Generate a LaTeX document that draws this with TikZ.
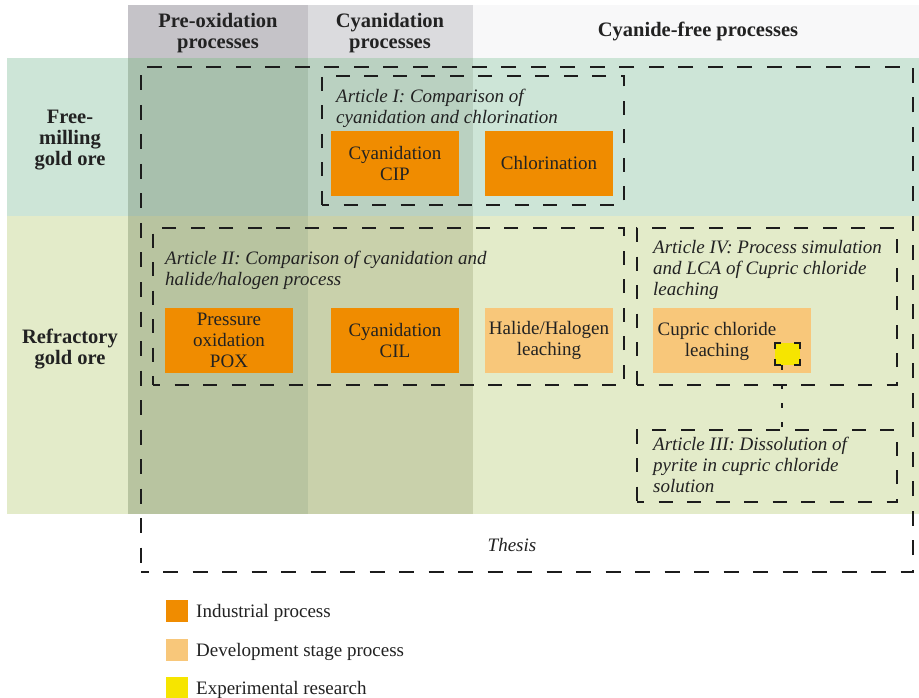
\documentclass[tikz,border=0pt]{standalone}
\usepackage{fontspec}
\setmainfont{Liberation Serif}
\usetikzlibrary{calc}

\definecolor{hdPre}{HTML}{C5C3C8}
\definecolor{hdCy}{HTML}{DBDBDE}
\definecolor{hdFree}{HTML}{F8F8F9}
\definecolor{rowFree}{HTML}{CDE5D7}
\definecolor{rowRef}{HTML}{E3EBC9}
\definecolor{ovPreFree}{HTML}{A8C0AD}
\definecolor{ovCyFree}{HTML}{BAD1C1}
\definecolor{ovPreRef}{HTML}{B8C4A0}
\definecolor{ovCyRef}{HTML}{C9D1AB}
\definecolor{procInd}{HTML}{F08C00}
\definecolor{procDev}{HTML}{F8C77A}
\definecolor{procExp}{HTML}{F6E500}
\definecolor{dashInk}{HTML}{1C1C1C}
\definecolor{ink}{HTML}{222222}

\newcommand\fBody{\fontsize{19}{21}\selectfont}
\newcommand\fHead{\fontsize{20.5}{21}\selectfont\bfseries}
\newcommand\fArt{\fontsize{19}{21}\selectfont\itshape}

\begin{document}
\begin{tikzpicture}[x=1pt,y=-1pt,
  every node/.style={text=ink},
  cell/.style={anchor=north west, inner sep=0pt, outer sep=0pt, rectangle},
  procbox/.style={cell, minimum width=128pt, minimum height=65pt, align=center, font=\fBody},
  industrial/.style={procbox, fill=procInd},
  devel/.style={procbox, fill=procDev},
  articlebox/.style={cell, draw=dashInk, line width=1.9pt, dash pattern=on 14pt off 14.5pt, dash phase=7pt},
  thesisbox/.style={cell, draw=dashInk, line width=2.8pt, dash pattern=on 15pt off 14.5pt, dash phase=7.5pt},
  articletext/.style={anchor=north west, inner sep=0pt, align=left, font=\fArt},
  headtext/.style={align=center, inner sep=0pt, font=\fHead},
  conn/.style={draw=dashInk, line width=1.9pt, dash pattern=on 5pt off 14pt, dash phase=0pt},
  bracket/.style={draw=dashInk, line width=1.6pt},
  legendkey/.style={cell, minimum width=22pt, minimum height=22pt},
  legendtext/.style={anchor=west, inner sep=0pt, font=\fBody}
]
\useasboundingbox (0,0) rectangle (919,698);
\fill[white] (0,0) rectangle (919,698);

% column headers
\fill[hdPre]  (128,5) rectangle (308,58);
\fill[hdCy]   (308,5) rectangle (473,58);
\fill[hdFree] (473,5) rectangle (919,58);
\node[headtext] (hpre)  at (218,33) {Pre-oxidation\\processes};
\node[headtext] (hcy)   at (390,33) {Cyanidation\\processes};
\node[headtext] (hfree) at (698,31) {Cyanide-free processes};

% ore-type rows and column overlays
\fill[rowFree]   (7,58)    rectangle (919,216);
\fill[rowRef]    (7,216)   rectangle (919,514);
\fill[ovPreFree] (128,58)  rectangle (308,216);
\fill[ovCyFree]  (308,58)  rectangle (473,216);
\fill[ovPreRef]  (128,216) rectangle (308,514);
\fill[ovCyRef]   (308,216) rectangle (473,514);
\node[headtext] (rfree) at (70,140) {Free-\\milling\\gold ore};
\node[headtext] (rref)  at (70,349) {Refractory\\gold ore};

% thesis frame
\node[thesisbox, minimum width=772pt, minimum height=505pt] (thesis) at (141,67) {};
\node[font=\fArt, inner sep=0pt] (thesist) at (512,545) {Thesis};

% article frames
\node[articlebox, minimum width=302pt, minimum height=129pt] (a1) at (322,76) {};
\node[articlebox, minimum width=471pt, minimum height=157pt] (a2) at (153,228) {};
\node[articlebox, minimum width=260pt, minimum height=157pt] (a4) at (637,228) {};
\node[articlebox, minimum width=260pt, minimum height=72pt]  (a3) at (637,430) {};

\node[articletext] (a1t) at (336,89)  {Article I: Comparison of\\cyanidation and chlorination};
\node[articletext] (a2t) at (165,251) {Article II: Comparison of cyanidation and\\halide/halogen process};
\node[articletext] (a4t) at (653,240) {Article IV: Process simulation\\and LCA of Cupric chloride\\leaching};
\node[articletext] (a3t) at (653,437) {Article III: Dissolution of\\pyrite in cupric chloride\\solution};

% processes
\node[industrial] (cip)  at (331,131) {Cyanidation\\CIP};
\node[industrial] (chl)  at (485,131) {Chlorination};
\node[industrial] (pox)  at (165,308) {Pressure\\oxidation\\POX};
\node[industrial] (cil)  at (331,308) {Cyanidation\\CIL};
\node[devel]      (hal)  at (485,308) {Halide/Halogen\\leaching};
\node[devel, minimum width=158pt] (cup) at (653,308) {};
\node[font=\fBody, align=center, inner sep=0pt] (cupt) at (717,341) {Cupric chloride\\leaching};

% experimental part with corner brackets, and its link to Article III
\node[cell, fill=procExp, minimum width=25pt, minimum height=22pt] (yel) at (775,343) {};
\draw[bracket] ([yshift=-6pt]yel.north west) -- (yel.north west) -- ([xshift=6pt]yel.north west);
\draw[bracket] ([xshift=-6pt]yel.north east) -- (yel.north east) -- ([yshift=-6pt]yel.north east);
\draw[bracket] ([yshift=6pt]yel.south west) -- (yel.south west) -- ([xshift=6pt]yel.south west);
\draw[bracket] ([xshift=-6pt]yel.south east) -- (yel.south east) -- ([yshift=6pt]yel.south east);
\draw[conn] ([xshift=7pt]yel.south west) -- ([xshift=7pt]yel.south west |- a3.north);

% legend
\node[legendkey, fill=procInd] (k1) at (166,600) {};
\node[legendkey, fill=procDev] (k2) at (166,639) {};
\node[legendkey, fill=procExp] (k3) at (166,677) {};
\node[legendtext] (l1) at (196,613) {Industrial process};
\node[legendtext] (l2) at (196,652) {Development stage process};
\node[legendtext] (l3) at (196,690) {Experimental research};
\end{tikzpicture}
\end{document}
